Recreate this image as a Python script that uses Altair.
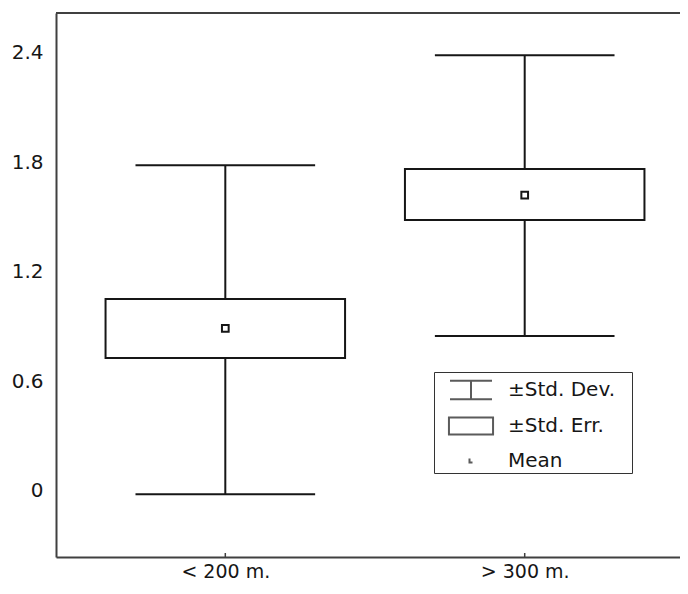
import altair as alt
import pandas as pd

# ---- data ----
groups = ["< 200 m.", "> 300 m."]
group_index = [0, 1]
means = [0.888, 1.619]
se_low = [0.726, 1.482]
se_high = [1.049, 1.762]
sd_low = [-0.021, 0.847]
sd_high = [1.782, 2.385]
y_ticks = [0, 0.6, 1.2, 1.8, 2.4]
legend_labels = ["±Std. Dev.", "±Std. Err.", "Mean"]

df = pd.DataFrame({
    "group": groups,
    "idx": group_index,
    "mean": means,
    "se_low": se_low,
    "se_high": se_high,
    "sd_low": sd_low,
    "sd_high": sd_high,
})
legend_df = pd.DataFrame({"item": legend_labels})

W, H = 624, 544
FONT = "DejaVu Sans"
FS = 20
FRAME = "#404040"
INK = "#161616"

# 0 -> 169.3 px, 1 -> 468.7 px inside the plot area; 0 -> 477.5 px, 182.5 px per unit vertically
xs = alt.Scale(domain=[-0.5655, (W - 169.3) / 299.4], nice=False, zero=False)
ys = alt.Scale(domain=[-(H - 477.5) / 182.5, 2.4 + 39.5 / 182.5], nice=False, zero=False)

label_expr = " : ".join(
    f"datum.value == {i} ? '{g}'" for i, g in zip(group_index, groups)
) + " : ''"

x_axis = alt.Axis(values=group_index, labelExpr=label_expr, ticks=False, tickSize=0,
                  grid=False, title=None, domainColor=FRAME, domainWidth=2,
                  labelFont=FONT, labelFontSize=19, labelColor=INK, labelPadding=5)
y_axis = alt.Axis(values=y_ticks, ticks=False, tickSize=0, grid=False, title=None,
                  domainColor=FRAME, domainWidth=2,
                  labelExpr="datum.value == 0 ? '0' : format(datum.value, '.1f')",
                  labelFont=FONT, labelFontSize=FS, labelColor=INK, labelPadding=13)

base = alt.Chart(df)

whisker = base.mark_rule(color=INK, strokeWidth=2).encode(
    x=alt.X("idx:Q", scale=xs, axis=x_axis),
    y=alt.Y("sd_low:Q", scale=ys, axis=y_axis),
    y2="sd_high:Q",
)

caps = base.transform_calculate(cl="datum.idx - 0.3", cr="datum.idx + 0.3")
cap_top = caps.mark_rule(color=INK, strokeWidth=2).encode(
    x="cl:Q", x2="cr:Q", y="sd_high:Q")
cap_bot = caps.mark_rule(color=INK, strokeWidth=2).encode(
    x="cl:Q", x2="cr:Q", y="sd_low:Q")

box = base.transform_calculate(bl="datum.idx - 0.4", br="datum.idx + 0.4").mark_rect(
    fill="white", stroke=INK, strokeWidth=2).encode(
    x="bl:Q", x2="br:Q", y="se_low:Q", y2="se_high:Q")

mean_pt = base.mark_point(shape="square", filled=False, size=45, strokeWidth=2,
                          color=INK, opacity=1).encode(x="idx:Q", y="mean:Q")

xticks = base.mark_rule(color=FRAME, strokeWidth=1.5).encode(
    x="idx:Q", y=alt.value(H), y2=alt.value(H - 4))

top_border = base.mark_rule(color=FRAME, strokeWidth=2).encode(
    x=alt.value(0), x2=alt.value(W), y=alt.value(0))

paths = [
    "M-1.4,-0.62H1.4M0,-0.62V0.62M-1.4,0.62H1.4",
    "M-1.47,-0.57H1.47V0.57H-1.47Z",
    "M-0.1,-0.17V0.1H0.1",
]

pad = "\u2800"
legend_layer = alt.Chart(legend_df).mark_point(filled=False, clip=True, color=INK).encode(
    x=alt.datum(0),
    y=alt.datum(-10),
    shape=alt.Shape("item:N", scale=alt.Scale(domain=legend_labels, range=paths),
                    legend=alt.Legend(title=None, orient="none", legendX=378, legendY=359,
                                      direction="vertical", padding=2,
                                      strokeColor="#333333", fillColor="white",
                                      symbolSize=900, symbolStrokeWidth=2,
                                      symbolStrokeColor=INK, symbolOffset=19,
                                      labelOffset=21, labelFont=FONT, labelFontSize=FS,
                                      labelColor=INK, rowPadding=6, labelLimit=0,
                                      labelExpr=f"datum.label + '{pad}'")),
)

chart = alt.layer(
    whisker, cap_top, cap_bot, box, mean_pt, xticks, top_border, legend_layer
).properties(
    width=W, height=H,
    autosize=alt.AutoSizeParams(type="none"),
    padding={"left": 48, "top": 5, "right": 0, "bottom": 29},
    background="white",
).configure_view(stroke=None)

chart.save("out.html", embed_options={"renderer": "svg", "actions": False})
